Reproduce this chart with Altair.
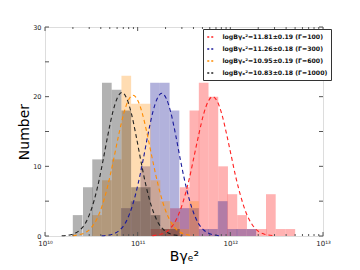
import altair as alt
import pandas as pd

# ---------------- data (log10 of B*gamma_e^2 bin left edges, counts) ----------------
labels = ["logBγₑ²=11.81±0.19 (Γ=100)",
          "logBγₑ²=11.26±0.18 (Γ=300)",
          "logBγₑ²=10.95±0.19 (Γ=600)",
          "logBγₑ²=10.83±0.18 (Γ=1000)"]
series = ["Γ=100", "Γ=300", "Γ=600", "Γ=1000"]
colors = ["#ff0000", "#00008b", "#ff8c00", "#000000"]
line_colors = ["#ff2020", "#1a1a9a", "#ff8c00", "#222222"]

bin_w = 0.1045

red_lo = [11.14, 11.245, 11.35, 11.455, 11.56, 11.66, 11.765, 11.87, 11.97, 12.075, 12.18, 12.285, 12.385, 12.49, 12.595]
red_n = [1, 1, 4, 7, 18, 22, 20, 10, 6, 3, 1, 1, 6, 1, 1]

blue_lo = [10.82, 10.925, 11.03, 11.135, 11.24, 11.345, 11.45, 11.555, 11.66, 11.76, 11.865, 11.97, 12.07, 12.175]
blue_n = [4, 5, 10, 22, 22, 18, 4, 4, 1, 1, 5, 1, 1, 1]

orange_lo = [10.51, 10.615, 10.72, 10.825, 10.93, 11.035, 11.14, 11.245, 11.35, 11.45, 11.555]
orange_n = [3, 8, 11, 23, 19, 19, 8, 5, 2, 1, 5]

gray_lo = [10.30, 10.41, 10.51, 10.615, 10.72, 10.825, 10.93, 11.035, 11.14, 11.245, 11.35]
gray_n = [3, 7, 11, 22, 21, 18, 7, 7, 3, 1, 1]

# fitted dashed curves: offsets (log10) from the legend means, and read heights
means = [11.81, 11.26, 10.95, 10.83]
curve_dx = [-0.65, -0.6, -0.55, -0.5, -0.45, -0.4, -0.35, -0.3, -0.25, -0.2, -0.15, -0.1, -0.05, 0.0,
            0.05, 0.1, 0.15, 0.2, 0.25, 0.3, 0.35, 0.4, 0.45, 0.5, 0.55, 0.6, 0.65]
red_curve = [0.06, 0.14, 0.3, 0.6, 1.2, 2.2, 3.7, 5.8, 8.4, 11.5, 14.6, 17.4, 19.3, 20.0,
             19.3, 17.4, 14.6, 11.5, 8.4, 5.8, 3.7, 2.2, 1.2, 0.6, 0.3, 0.14, 0.06]
blue_curve = [0.03, 0.08, 0.19, 0.43, 0.9, 1.7, 3.1, 5.1, 7.8, 11.0, 14.5, 17.6, 19.7, 20.5,
              19.7, 17.6, 14.5, 11.0, 7.8, 5.1, 3.1, 1.7, 0.9, 0.43, 0.19, 0.08, 0.03]
orange_curve = [0.06, 0.14, 0.3, 0.6, 1.2, 2.2, 3.7, 5.8, 8.5, 11.6, 14.8, 17.6, 19.5, 20.2,
                19.5, 17.6, 14.8, 11.6, 8.5, 5.8, 3.7, 2.2, 1.2, 0.6, 0.3, 0.14, 0.06]
gray_curve = [0.03, 0.08, 0.19, 0.43, 0.9, 1.7, 3.1, 5.1, 7.8, 11.1, 14.6, 17.7, 19.8, 20.6,
              19.8, 17.7, 14.6, 11.1, 7.8, 5.1, 3.1, 1.7, 0.9, 0.43, 0.19, 0.08, 0.03]

y_ticks = [0, 5, 10, 15, 20, 25, 30]
x_major = [1e10, 1e11, 1e12, 1e13]
x_minor = [m * d for d in (1e10, 1e11, 1e12) for m in range(2, 10)]

# ---------------- tables ----------------
bar_rows = []
for s, los, ns in zip(series, [red_lo, blue_lo, orange_lo, gray_lo], [red_n, blue_n, orange_n, gray_n]):
    for lo, n in zip(los, ns):
        bar_rows.append({"series": s, "lo": 10 ** lo, "hi": 10 ** (lo + bin_w), "n": n, "base": 0})
bars_df = pd.DataFrame(bar_rows)

curve_rows = []
for lab, mu, ys in zip(labels, means, [red_curve, blue_curve, orange_curve, gray_curve]):
    for i, (dx, y) in enumerate(zip(curve_dx, ys)):
        curve_rows.append({"label": lab, "x": 10 ** (mu + dx), "y": y, "order": i})
curves_df = pd.DataFrame(curve_rows)

xscale = alt.Scale(type="log", domain=[1e10, 1e13], nice=False)
yscale = alt.Scale(domain=[0, 30], nice=False)

label_expr = ("datum.value == 1e10 ? '10¹⁰' : datum.value == 1e11 ? '10¹¹' : "
              "datum.value == 1e12 ? '10¹²' : datum.value == 1e13 ? '10¹³' : ''")

bars = alt.Chart(bars_df).mark_rect(opacity=0.3).encode(
    x=alt.X("lo:Q", scale=xscale,
            axis=alt.Axis(values=x_major, labelExpr=label_expr, ticks=False, domain=False, grid=False,
                          labelFontSize=7, labelColor="#222", labelPadding=3,
                          title="Bγₑ²", titleFontSize=14, titleFontWeight="normal",
                          titleColor="#000", titlePadding=3, labelFlush=False)),
    x2="hi:Q",
    y=alt.Y("n:Q", scale=yscale,
            axis=alt.Axis(values=y_ticks, ticks=False, domain=False, grid=False,
                          labelFontSize=6.5, labelColor="#222", labelPadding=4,
                          title="Number", titleFontSize=14, titleFontWeight="normal",
                          titleColor="#000", titlePadding=1)),
    y2="base:Q",
    fill=alt.Fill("series:N", scale=alt.Scale(domain=series, range=colors), legend=None),
)

lines = alt.Chart(curves_df).mark_line(strokeDash=[4, 3], strokeWidth=1.1, interpolate="monotone").encode(
    x=alt.X("x:Q", scale=xscale),
    y=alt.Y("y:Q", scale=yscale),
    order="order:Q",
    stroke=alt.Stroke("label:N", scale=alt.Scale(domain=labels, range=line_colors),
                      legend=alt.Legend(title=None, orient="none", legendX=158, legendY=2,
                                        symbolType="stroke", symbolStrokeWidth=1.4,
                                        symbolDash=[2, 2], symbolSize=56,
                                        labelFontSize=6.2, labelFont="DejaVu Sans",
                                        labelFontWeight="bold", labelColor="#111",
                                        labelLimit=300, labelOffset=7,
                                        fillColor="white", strokeColor="#333",
                                        padding=3.5, rowPadding=4, cornerRadius=0)),
)

ytick_df = pd.DataFrame({"v": y_ticks})
xmaj_df = pd.DataFrame({"v": x_major})
xmin_df = pd.DataFrame({"v": x_minor})
tick_color = "#555"

yt_left = alt.Chart(ytick_df).mark_rule(color=tick_color, strokeWidth=1).encode(
    y=alt.Y("v:Q", scale=yscale), x=alt.value(0), x2=alt.value(4))
yt_right = alt.Chart(ytick_df).mark_rule(color=tick_color, strokeWidth=1).encode(
    y=alt.Y("v:Q", scale=yscale), x=alt.value(278), x2=alt.value(274))
xt_bot = alt.Chart(xmaj_df).mark_rule(color=tick_color, strokeWidth=1).encode(
    x=alt.X("v:Q", scale=xscale), y=alt.value(209), y2=alt.value(205))
xt_top = alt.Chart(xmaj_df).mark_rule(color=tick_color, strokeWidth=1).encode(
    x=alt.X("v:Q", scale=xscale), y=alt.value(0), y2=alt.value(4))
xm_bot = alt.Chart(xmin_df).mark_rule(color=tick_color, strokeWidth=1).encode(
    x=alt.X("v:Q", scale=xscale), y=alt.value(209), y2=alt.value(207))
xm_top = alt.Chart(xmin_df).mark_rule(color=tick_color, strokeWidth=1).encode(
    x=alt.X("v:Q", scale=xscale), y=alt.value(0), y2=alt.value(2))

chart = alt.layer(bars, lines, yt_left, yt_right, xt_bot, xt_top, xm_bot, xm_top).properties(
    width=278, height=209,
    autosize=alt.AutoSizeParams(type="none"),
    padding={"left": 37, "top": 19, "right": 20, "bottom": 30},
).configure_view(stroke="#8a8a8a", strokeWidth=2).configure(font="DejaVu Sans")

chart.save("out.html", embed_options={"renderer": "svg", "actions": False})
